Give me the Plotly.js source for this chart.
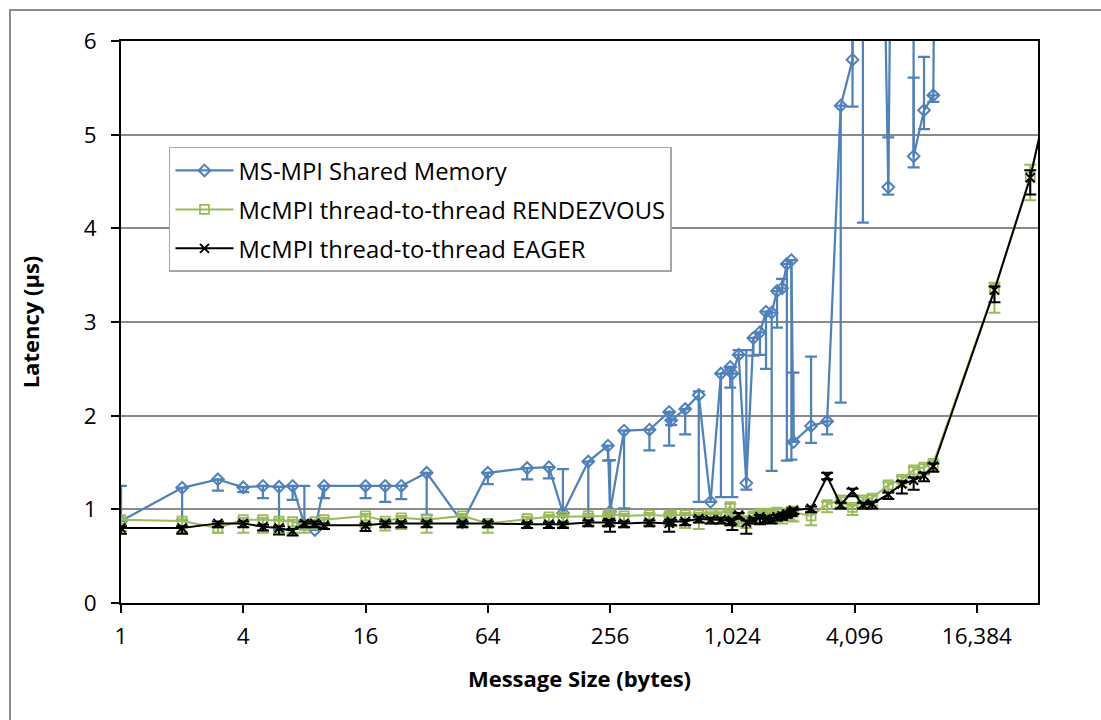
<!DOCTYPE html>
<html>
<head>
<meta charset="utf-8">
<script src="https://cdn.plot.ly/plotly-3.0.1.min.js"></script>
<style>
  html, body { margin: 0; padding: 0; background: #fff; overflow: hidden; }
  #chart { position: absolute; left: 0; top: 0; width: 1101px; height: 720px; }
  #frame { position: absolute; left: 9px; top: 9px; width: 1200px; height: 800px;
           border: 2px solid #8c8c8c; pointer-events: none; }
</style>
</head>
<body>
<div id="chart"></div>
<div id="frame"></div>
<script>
// Message sizes (bytes) for the MS-MPI shared-memory runs
const msmpiSizes = [1,2,3,4,5,6,7,8,9,10,16,20,24,32,48,64,100,128,150,200,250,256,300,400,500,512,600,700,800,900,1000,1024,1100,1200,1300,1400,1500,1600,1700,1800,1900,2000,2048,2500,3000,3500,4000,4500,6000,7900,8000,9000,10000,12000];
const msmpiLatency = [0.875,1.23,1.32,1.235,1.25,1.24,1.25,0.84,0.78,1.25,1.25,1.25,1.25,1.39,0.86,1.39,1.44,1.45,0.96,1.51,1.68,0.975,1.84,1.85,2.04,1.95,2.07,2.22,1.08,2.45,2.52,2.45,2.65,1.28,2.83,2.89,3.11,3.10,3.33,3.36,3.62,3.66,1.72,1.89,1.94,5.31,5.80,20,4.44,30,4.77,5.26,5.42,30];
const msmpiErrPlus = [0.375,0,0,0,0,0,0,0.41,0,0,0,0,0,0,0,0,0,0,0.47,0,0,0.55,0,0,0,0,0,0.04,0,0,0,0,0.05,1.42,0,0,0,0,0,0.1,0,0,0.74,0.74,0,0,3,0,0.53,0,0.84,0.57,0,0];
const msmpiErrMinus = [0,0.35,0.12,0.05,0.13,0.46,0.15,0,0,0.13,0.13,0.17,0.14,0.45,0,0.12,0.12,0.12,0,0.59,0.16,0,0.83,0.22,0.36,0.05,0.27,1.14,0,1.32,0.22,1.32,0,0.07,0.19,0.24,0.61,1.69,0.39,0,2.10,2.13,0,0.18,0.14,3.17,0.50,15.94,0.08,0,0.12,0.20,0.07,0];

// Message sizes (bytes) for the McMPI thread-to-thread runs
const mcmpiSizes = [1,2,3,4,5,6,7,8,9,10,16,20,24,32,48,64,100,128,150,200,250,256,300,400,500,512,600,700,800,900,1000,1024,1100,1200,1300,1400,1500,1600,1700,1800,1900,2000,2048,2500,3000,3500,4000,4500,5000,6000,7000,8000,9000,10000,20000,30000,40000];
const rendezvousLatency = [0.89,0.875,0.80,0.89,0.89,0.875,0.87,0.83,0.87,0.89,0.93,0.875,0.91,0.89,0.93,0.85,0.90,0.92,0.92,0.93,0.93,0.95,0.93,0.94,0.93,0.94,0.94,0.94,0.95,0.95,1.03,0.92,0.90,0.88,0.93,0.96,0.94,0.96,0.97,0.93,0.96,0.98,0.97,0.93,1.05,1.10,1.02,1.10,1.12,1.26,1.32,1.42,1.45,1.49,3.35,4.55,5.75];
const rendezvousErrPlus = [0.02,0.02,0.03,0.02,0.02,0.02,0.02,0.02,0.02,0.02,0.02,0.02,0.02,0.02,0.02,0.02,0.02,0.02,0.02,0.02,0.02,0.02,0.02,0.02,0.02,0.02,0.02,0.02,0.02,0.02,0.03,0.02,0.02,0.03,0.03,0.03,0.03,0.03,0.03,0.03,0.03,0.03,0.03,0.03,0.03,0.03,0.03,0.03,0.03,0.03,0.03,0.03,0.03,0.03,0.07,0.13,0.05];
const rendezvousErrMinus = [0.12,0.12,0.05,0.14,0.14,0.12,0.12,0.08,0.08,0.10,0.12,0.10,0.12,0.14,0.10,0.10,0.10,0.12,0.10,0.10,0.10,0.12,0.12,0.10,0.10,0.12,0.14,0.15,0.10,0.10,0.12,0.08,0.08,0.08,0.08,0.10,0.08,0.08,0.10,0.08,0.08,0.10,0.10,0.10,0.08,0.08,0.08,0.08,0.08,0.08,0.08,0.08,0.08,0.08,0.25,0.25,0.10];
const eagerLatency = [0.80,0.80,0.85,0.85,0.815,0.80,0.77,0.85,0.85,0.83,0.83,0.85,0.85,0.85,0.85,0.85,0.84,0.84,0.84,0.86,0.86,0.86,0.85,0.86,0.85,0.87,0.87,0.90,0.89,0.89,0.87,0.88,0.94,0.86,0.89,0.92,0.90,0.89,0.92,0.93,0.95,0.97,0.99,1.01,1.35,1.05,1.19,1.05,1.06,1.16,1.27,1.31,1.36,1.46,3.34,4.54,5.75];
const eagerErrPlus = [0.02,0.02,0.02,0.02,0.02,0.02,0.02,0.02,0.02,0.02,0.02,0.02,0.02,0.02,0.02,0.02,0.02,0.02,0.02,0.02,0.02,0.02,0.02,0.02,0.02,0.02,0.02,0.02,0.02,0.02,0.02,0.02,0.02,0.02,0.02,0.02,0.02,0.02,0.02,0.02,0.02,0.02,0.02,0.02,0.04,0.02,0.03,0.02,0.02,0.02,0.03,0.03,0.03,0.03,0.04,0.08,0.05];
const eagerErrMinus = [0.06,0.06,0.04,0.04,0.04,0.07,0.05,0.04,0.04,0.04,0.06,0.04,0.04,0.04,0.04,0.04,0.04,0.04,0.04,0.04,0.04,0.10,0.04,0.04,0.09,0.04,0.04,0.04,0.04,0.04,0.04,0.10,0.04,0.12,0.04,0.08,0.04,0.04,0.04,0.04,0.04,0.04,0.04,0.04,0.03,0.04,0.05,0.04,0.05,0.05,0.10,0.10,0.06,0.06,0.13,0.18,0.10];

// Axis ticks: powers of four, labelled with thousands separators
const xTickVals = [1,4,16,64,256,1024,4096,16384];
const xTickText = ['1','4','16','64','256','1,024','4,096','16,384'];
const yTickVals = [0,1,2,3,4,5,6];

const FONT = '"Open Sans", "Noto Sans", sans-serif';

function errBars(plus, minus, color, thick) {
  return { type: 'data', symmetric: false, array: plus, arrayminus: minus,
           color: color, thickness: thick, width: 6, visible: true };
}

const traces = [
  {
    name: 'MS-MPI Shared Memory', legendgroup: 'g1',
    x: msmpiSizes, y: msmpiLatency, type: 'scatter', mode: 'lines+markers',
    line: { color: '#4F81BD', width: 2.25 },
    marker: { symbol: 'diamond-open', size: 9, color: '#4F81BD', line: { width: 2, color: '#4F81BD' } },
    error_y: errBars(msmpiErrPlus, msmpiErrMinus, '#4F81BD', 2.25)
  },
  {
    name: 'McMPI thread-to-thread RENDEZVOUS', legendgroup: 'g2',
    x: mcmpiSizes, y: rendezvousLatency, type: 'scatter', mode: 'lines+markers',
    line: { color: '#9BBB59', width: 2 },
    marker: { symbol: 'square-open', size: 9, color: '#9BBB59', line: { width: 1.75, color: '#9BBB59' } },
    error_y: errBars(rendezvousErrPlus, rendezvousErrMinus, '#9BBB59', 2)
  },
  {
    name: 'McMPI thread-to-thread EAGER', legendgroup: 'g3',
    x: mcmpiSizes, y: eagerLatency, type: 'scatter', mode: 'lines+markers',
    line: { color: '#000000', width: 2 },
    marker: { symbol: 'x-thin-open', size: 9, color: '#000000', line: { width: 2, color: '#000000' } },
    error_y: errBars(eagerErrPlus, eagerErrMinus, '#000000', 2)
  }
];

const layout = {
  width: 1101, height: 720,
  margin: { l: 121, r: 63, t: 41, b: 117, pad: 0 },
  paper_bgcolor: '#ffffff', plot_bgcolor: '#ffffff',
  font: { family: FONT, size: 23, color: '#000000' },
  showlegend: true,
  legend: {
    x: 0.0523, y: 0.8114, xanchor: 'left', yanchor: 'top',
    bgcolor: '#ffffff', bordercolor: '#a6a6a6', borderwidth: 1.5,
    font: { family: FONT, size: 23.8, color: '#000000' },
    tracegroupgap: 5, itemwidth: 58
  },
  xaxis: {
    type: 'log', range: [0, Math.log10(32768)],
    tickvals: xTickVals, ticktext: xTickText,
    ticks: 'outside', ticklen: 8, tickwidth: 2, tickcolor: '#000',
    showline: true, linecolor: '#000', linewidth: 2, mirror: true,
    showgrid: false, zeroline: false,
    tickfont: { family: FONT, size: 22.5, color: '#000' },
    ticklabelstandoff: 4,
    title: { text: 'Message Size (bytes)', font: { family: FONT, size: 22, color: '#000', weight: 'bold' }, standoff: 22 }
  },
  yaxis: {
    range: [0, 6], tickvals: yTickVals,
    ticks: 'outside', ticklen: 8, tickwidth: 2, tickcolor: '#000',
    showline: true, linecolor: '#000', linewidth: 2, mirror: true,
    showgrid: true, gridcolor: '#8a8a8a', gridwidth: 2,
    zeroline: false,
    tickfont: { family: FONT, size: 22.5, color: '#000' },
    ticklabelstandoff: 10,
    title: { text: 'Latency (µs)', font: { family: FONT, size: 22, color: '#000', weight: 'bold' }, standoff: 38 }
  }
};

Plotly.newPlot('chart', traces, layout, { displayModeBar: false, staticPlot: true });
</script>
</body>
</html>
